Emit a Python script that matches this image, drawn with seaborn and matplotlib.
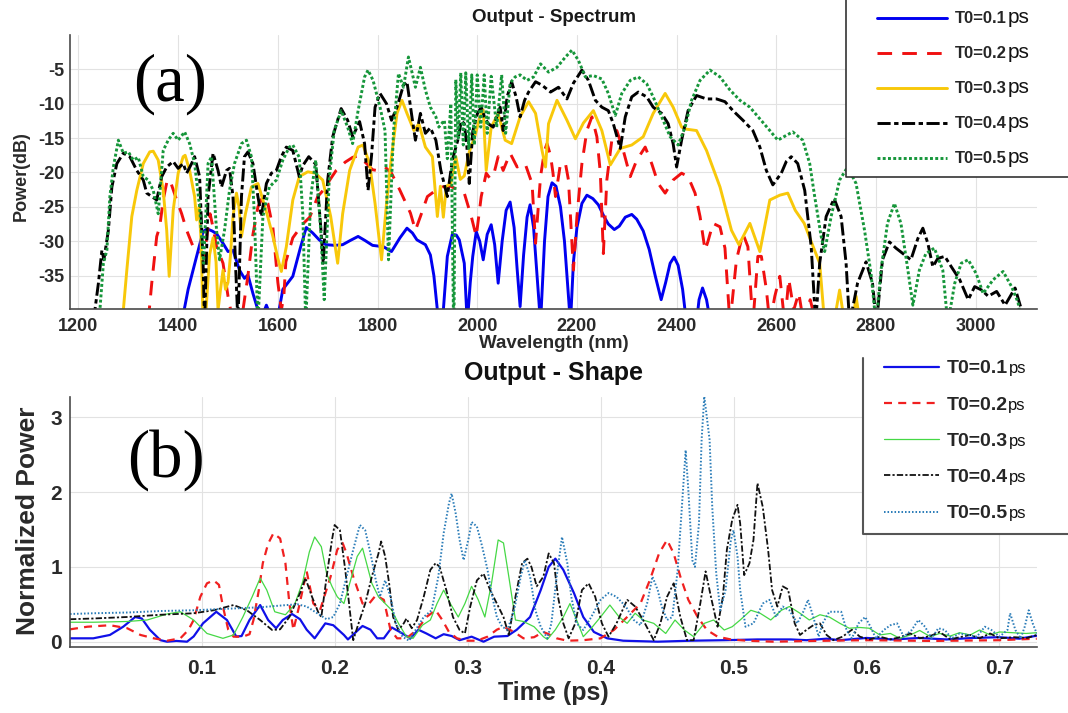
import matplotlib
matplotlib.use("Agg")
import matplotlib.pyplot as plt
import seaborn as sns
from matplotlib.lines import Line2D
from matplotlib.patches import Rectangle
from matplotlib.font_manager import FontProperties

# ---------------- data: top panel (wavelength nm, power dB) ----------------
spec_t01 = [(1405, -45), (1412, -40), (1420, -37), (1437, -32.2), (1450, -28.6), (1458, -28.2), (1468, -28.5),
            (1477, -28.9), (1490, -30.3), (1500, -31.5), (1510, -31.3), (1523, -34.2), (1533, -35.4), (1540, -34.9),
            (1550, -37.6), (1560, -40), (1568, -41), (1577, -39.3), (1586, -41), (1600, -41), (1610, -37),
            (1630, -35.1), (1645, -31), (1657, -28), (1670, -28.8), (1683, -29.8), (1696, -30.5), (1715, -30.6),
            (1730, -30.5), (1745, -29.9), (1761, -29.3), (1775, -29.9), (1790, -30.6), (1812, -30.8), (1828, -31.5),
            (1845, -29.5), (1859, -28.1), (1870, -28.8), (1879, -29.8), (1896, -30.5), (1906, -32), (1913, -35),
            (1920, -40), (1925, -45), (1932, -40), (1940, -32.2), (1950, -29), (1958, -29.1), (1964, -29.8),
            (1974, -33.2), (1980, -42), (1986, -36), (1991, -32.2), (1998, -28.6), (2005, -30), (2012, -32.7),
            (2020, -29), (2028, -27.6), (2035, -30.5), (2042, -36.1), (2050, -30), (2058, -25.5), (2066, -24.3),
            (2074, -28), (2080, -34), (2086, -39.5), (2093, -32), (2100, -26.5), (2106, -24.7), (2113, -28),
            (2120, -35), (2127, -42), (2135, -30), (2142, -23.5), (2150, -21.5), (2158, -22), (2167, -25),
            (2175, -30), (2181, -36), (2187, -42), (2193, -33), (2200, -28), (2210, -24.5), (2220, -23.3),
            (2232, -23.8), (2243, -24.7), (2255, -26.5), (2263, -27.5), (2275, -28.3), (2285, -27.8), (2297, -26.5),
            (2310, -26.1), (2320, -26.8), (2333, -28.5), (2345, -31.2), (2357, -35), (2369, -38.5), (2378, -36),
            (2387, -33.2), (2395, -32.3), (2403, -33.5), (2412, -37), (2420, -42), (2435, -45), (2445, -38.5),
            (2452, -36.8), (2460, -38.5), (2466, -41), (2475, -45)]

spec_t02 = [(1330, -45), (1342, -40), (1347, -36.1), (1357, -29.3), (1363, -27.9), (1370, -24), (1377, -21.5),
            (1383, -21), (1390, -22.5), (1397, -24), (1407, -26), (1417, -28.4), (1430, -30.8), (1443, -31.3),
            (1452, -32.5), (1458, -29), (1464, -26), (1470, -28), (1477, -30.8), (1490, -33.2), (1500, -38),
            (1508, -41), (1520, -41), (1530, -40), (1540, -35), (1550, -29), (1560, -25), (1570, -23.5),
            (1580, -24.5), (1590, -28), (1600, -36), (1607, -40), (1612, -38), (1616, -33), (1630, -29.5),
            (1650, -27.5), (1664, -26.5), (1680, -23.5), (1692, -22.5), (1705, -21), (1717, -19.7), (1735, -18.5),
            (1750, -17.8), (1761, -17.6), (1778, -18.7), (1790, -19.6), (1798, -19.7), (1815, -19.2), (1828, -20.1),
            (1845, -22.6), (1866, -25.9), (1876, -28.4), (1886, -26.4), (1900, -23.5), (1913, -22.8), (1930, -22.1),
            (1947, -22), (1960, -22.5), (1974, -23), (1988, -26.4), (1998, -29.3), (2008, -23.5), (2018, -20.1),
            (2025, -20.8), (2032, -20.6), (2042, -17.7), (2052, -19.7), (2066, -17.2), (2080, -19.2), (2096, -18.7),
            (2110, -21.6), (2117, -30.3), (2127, -20.6), (2135, -16.8), (2140, -15.8), (2147, -17.5), (2152, -20.1),
            (2157, -23.5), (2167, -18.7), (2177, -18.7), (2183, -21.1), (2193, -34.2), (2200, -26.4), (2210, -18.7),
            (2220, -13.9), (2230, -11.9), (2240, -14.8), (2247, -20.1), (2253, -31.8), (2260, -21.1), (2270, -15.3),
            (2280, -13.9), (2293, -16.8), (2307, -20.6), (2320, -18.2), (2337, -16.3), (2350, -18.7), (2363, -21.6),
            (2377, -23), (2393, -21.1), (2410, -20.1), (2423, -20.6), (2437, -23), (2447, -26.4), (2457, -31.3),
            (2463, -30), (2473, -27.4), (2487, -27.9), (2497, -31), (2507, -42), (2520, -32.7), (2533, -28.9),
            (2543, -30.8), (2553, -42), (2563, -32.2), (2570, -32.2), (2580, -37), (2587, -42), (2597, -38),
            (2607, -35.1), (2617, -42), (2625, -35.5), (2635, -40), (2645, -37.5), (2655, -42), (2668, -38.5),
            (2680, -42), (2690, -39.5), (2700, -45)]

spec_t03 = [(1283, -45), (1290, -40), (1297, -34.2), (1307, -26.4), (1317, -22.6), (1330, -18.7), (1343, -17),
            (1350, -16.9), (1360, -18.2), (1370, -22.6), (1377, -28.4), (1382, -35.1), (1390, -25.5), (1400, -20.1),
            (1410, -17.7), (1414, -17.5), (1423, -19.7), (1433, -23.5), (1437, -26.9), (1442, -25), (1446, -30),
            (1450, -42), (1456, -40), (1463, -32), (1470, -29.5), (1476, -33), (1480, -40), (1485, -37),
            (1490, -34.2), (1495, -37), (1500, -36), (1505, -32), (1510, -26.4), (1517, -23), (1522, -25),
            (1527, -29.3), (1535, -26), (1547, -22.1), (1560, -21.6), (1570, -24), (1580, -26.5), (1590, -29.3),
            (1600, -32.5), (1607, -34.4), (1617, -30.8), (1630, -24), (1643, -20.6), (1660, -19.9), (1675, -20.1),
            (1690, -21.1), (1706, -26.4), (1720, -33.2), (1730, -26), (1744, -19.7), (1761, -16.3), (1771, -16),
            (1784, -18.7), (1795, -24.5), (1808, -32.7), (1818, -24.5), (1828, -17.7), (1839, -11.4), (1849, -9.5),
            (1859, -11.4), (1873, -13.9), (1883, -12.9), (1896, -16.3), (1910, -17.7), (1920, -26.4), (1926, -22),
            (1932, -26.5), (1938, -22), (1947, -21.6), (1957, -17.7), (1966, -21), (1974, -20.5), (1984, -17),
            (1995, -14.8), (2005, -12), (2012, -10.9), (2018, -19.7), (2028, -13.4), (2042, -11.4), (2056, -15.3),
            (2069, -15.8), (2086, -11.9), (2103, -9.7), (2117, -11.4), (2130, -16.8), (2137, -19.2), (2143, -12.9),
            (2160, -9.5), (2180, -12.4), (2197, -15.1), (2213, -12.8), (2233, -11), (2250, -13.9), (2267, -18.9),
            (2287, -16.5), (2310, -16), (2333, -14.8), (2353, -11.4), (2377, -8.5), (2393, -10.5), (2410, -13.4),
            (2420, -13.7), (2440, -13.9), (2460, -16.8), (2487, -22.1), (2510, -28.4), (2525, -30.5), (2547, -27.4),
            (2567, -31.5), (2587, -24), (2607, -23.3), (2623, -23), (2638, -25.5), (2656, -27.4), (2674, -30.8),
            (2687, -33.2), (2697, -42), (2712, -45), (2720, -40), (2727, -37.1), (2735, -41), (2750, -44),
            (2760, -38), (2768, -42), (2775, -45)]

spec_t04 = [(1225, -45), (1233, -40), (1240, -36.1), (1247, -31.3), (1251, -32.7), (1260, -28.4), (1267, -22.1),
            (1277, -18.7), (1290, -17.2), (1303, -17.7), (1317, -19.7), (1330, -21.1), (1337, -23), (1347, -23.5),
            (1357, -24), (1367, -20.6), (1377, -19.2), (1390, -18.4), (1400, -19.4), (1410, -18.7), (1417, -20.1),
            (1427, -18.7), (1433, -17.7), (1443, -20.6), (1450, -33.2), (1453, -42), (1460, -23.5), (1470, -17.2),
            (1480, -19.7), (1487, -22.1), (1497, -19.7), (1503, -19.4), (1510, -23.5), (1515, -33.2), (1520, -42),
            (1527, -23.5), (1533, -17.7), (1540, -17), (1550, -18.7), (1560, -23.5), (1567, -26.4), (1577, -21.6),
            (1587, -20.1), (1597, -19.7), (1607, -17.7), (1617, -16.3), (1630, -16.8), (1643, -20.6), (1650, -19),
            (1662, -17.7), (1676, -18.8), (1686, -27.9), (1691, -33.2), (1700, -21.1), (1710, -14.8), (1727, -10.7),
            (1740, -12.4), (1750, -14.8), (1764, -12.6), (1774, -15.8), (1781, -22.6), (1788, -17.5), (1795, -10.5),
            (1805, -8.5), (1818, -10), (1828, -12.4), (1839, -10.5), (1852, -7.3), (1859, -6.8), (1869, -11.9),
            (1876, -15.3), (1886, -11.4), (1896, -14.3), (1906, -13.5), (1917, -15.3), (1927, -19.7), (1940, -23.5),
            (1950, -18.2), (1961, -15.3), (1968, -12.5), (1974, -12.9), (1979, -16), (1984, -21.6), (1991, -14),
            (2000, -11.5), (2008, -10.5), (2015, -12), (2022, -12.9), (2032, -13.4), (2046, -10.5), (2052, -13.9),
            (2060, -9), (2069, -6.8), (2078, -9), (2086, -11.9), (2095, -9.5), (2103, -8.3), (2117, -6.8),
            (2130, -7.3), (2147, -8.3), (2163, -7.6), (2180, -9.3), (2193, -7), (2210, -5.1), (2223, -6.6),
            (2237, -9.5), (2250, -10.5), (2263, -11), (2273, -12.9), (2287, -16.5), (2297, -11.9), (2310, -9),
            (2323, -8.3), (2340, -9), (2353, -10.5), (2370, -11.4), (2383, -12.9), (2393, -15.8), (2400, -19.2),
            (2410, -15.3), (2423, -11), (2440, -8.8), (2460, -9.3), (2480, -9.3), (2497, -9.7), (2513, -11),
            (2533, -12.4), (2553, -13.9), (2567, -16.3), (2580, -19.7), (2593, -21.8), (2610, -20.1), (2620, -18.4),
            (2630, -17.7), (2643, -18.7), (2657, -22.6), (2670, -30.8), (2679, -42), (2687, -33.2), (2700, -26.4),
            (2716, -23.8), (2730, -26.4), (2740, -33.2), (2747, -42), (2763, -36.1), (2780, -33), (2793, -36.1),
            (2801, -42), (2813, -32.7), (2827, -30.1), (2840, -31), (2854, -31.8), (2870, -32.7), (2884, -29.6),
            (2894, -28.1), (2904, -30.3), (2914, -33.7), (2924, -32.5), (2938, -32.2), (2951, -33.7), (2968, -35.6),
            (2985, -38.5), (2998, -36.6), (3012, -37.1), (3025, -38), (3042, -37.3), (3059, -39.3), (3079, -36.8),
            (3092, -40), (3098, -45)]

spec_t05 = [(1236, -45), (1243, -40), (1250, -33.2), (1257, -31.3), (1263, -23.5), (1270, -19.2), (1280, -15.3),
            (1290, -17.2), (1300, -17), (1310, -18.2), (1320, -17.8), (1330, -20.6), (1340, -21.1), (1350, -22.6),
            (1360, -26), (1370, -16.8), (1380, -15.3), (1390, -14.3), (1400, -15.3), (1413, -14.1), (1423, -15.8),
            (1433, -18.7), (1443, -25), (1451, -33.2), (1460, -18.7), (1467, -17.7), (1477, -28.4), (1483, -32.7),
            (1493, -28.4), (1503, -22.6), (1513, -18.7), (1527, -15.8), (1537, -15.3), (1547, -17.7), (1553, -26.4),
            (1560, -42), (1570, -26.4), (1583, -22.1), (1597, -21.1), (1610, -18.2), (1623, -16.3), (1630, -16),
            (1643, -17.8), (1650, -26), (1656, -42), (1666, -23.5), (1676, -18.2), (1686, -28.4), (1693, -38.5),
            (1703, -21.1), (1713, -13.9), (1727, -11), (1740, -13.4), (1750, -15.8), (1761, -11), (1774, -6.1),
            (1781, -5.1), (1791, -6.6), (1805, -10.5), (1815, -13.9), (1822, -32.7), (1832, -14), (1842, -5.6),
            (1852, -7.6), (1862, -3.2), (1876, -7.6), (1886, -4.7), (1896, -8), (1906, -10.5), (1917, -11.9),
            (1923, -13.4), (1934, -12.4), (1940, -18), (1947, -10), (1953, -45), (1957, -6.5), (1962, -15),
            (1967, -5.5), (1972, -16), (1977, -5.5), (1983, -16.5), (1989, -5.8), (1994, -16), (2000, -5.8),
            (2007, -13.4), (2014, -5.8), (2020, -14.3), (2028, -6), (2039, -13.4), (2049, -5.8), (2057, -14.3),
            (2066, -7), (2076, -6.1), (2086, -5.8), (2100, -6.6), (2113, -6.1), (2127, -4.2), (2143, -5.4),
            (2160, -4.7), (2177, -3.2), (2190, -2.2), (2203, -3.7), (2217, -6.1), (2233, -5.9), (2250, -6.4),
            (2263, -8.5), (2277, -11.7), (2290, -8.5), (2307, -6.6), (2323, -6.1), (2340, -7.1), (2353, -9),
            (2370, -11.9), (2387, -14.8), (2403, -16), (2417, -13.4), (2430, -9.5), (2447, -6.6), (2467, -5.1),
            (2487, -6.1), (2507, -8), (2527, -9.5), (2547, -10.5), (2567, -12.2), (2587, -13.9), (2603, -15.3),
            (2620, -14.6), (2633, -14.1), (2653, -15.3), (2667, -18.7), (2677, -23.5), (2690, -29.3), (2697, -31.5),
            (2710, -26.4), (2727, -21.1), (2743, -19.2), (2760, -21.6), (2777, -28.4), (2790, -34.7), (2800, -42),
            (2810, -34.2), (2823, -27.4), (2837, -24.5), (2850, -27.4), (2864, -34.2), (2874, -39.3), (2887, -34.2),
            (2900, -31.8), (2917, -31), (2934, -34.2), (2944, -42), (2958, -36.1), (2971, -33.2), (2985, -32.7),
            (3001, -34.7), (3015, -37.6), (3035, -35.6), (3055, -34.4), (3072, -36.6), (3085, -38.9), (3092, -42),
            (3098, -45)]

# ---------------- data: bottom panel (time ps, normalized power) ----------------
shape_t01 = [(0.001, 0.045), (0.0185, 0.045), (0.031, 0.09), (0.041, 0.2), (0.05, 0.33), (0.055, 0.31), (0.061, 0.16),
             (0.069, 0.02), (0.074, 0.0), (0.081, 0.01), (0.089, 0.0), (0.094, 0.07), (0.101, 0.245), (0.111, 0.4),
             (0.119, 0.29), (0.126, 0.07), (0.13, 0.075), (0.136, 0.29), (0.144, 0.49), (0.15, 0.29), (0.156, 0.18),
             (0.161, 0.29), (0.168, 0.37), (0.174, 0.3), (0.179, 0.16), (0.185, 0.045), (0.193, 0.245), (0.199, 0.22),
             (0.207, 0.09), (0.21, 0.03), (0.221, 0.21), (0.227, 0.16), (0.232, 0.045), (0.237, 0.045), (0.243, 0.19),
             (0.249, 0.13), (0.257, 0.045), (0.263, 0.16), (0.269, 0.11), (0.276, 0.045), (0.282, 0.1), (0.288, 0.076),
             (0.294, 0.02), (0.303, 0.067), (0.312, 0.0), (0.32, 0.067), (0.33, 0.076), (0.337, 0.16), (0.347, 0.33),
             (0.355, 0.69), (0.361, 1.0), (0.366, 1.11), (0.372, 0.96), (0.38, 0.65), (0.387, 0.33), (0.395, 0.13),
             (0.405, 0.045), (0.417, 0.013), (0.443, 0.0), (0.468, 0.013), (0.493, 0.02), (0.518, 0.03), (0.543, 0.03),
             (0.555, 0.02), (0.57, 0.04), (0.58, 0.02), (0.6, 0.05), (0.62, 0.03), (0.64, 0.05), (0.66, 0.03),
             (0.68, 0.05), (0.7, 0.06), (0.715, 0.04), (0.728, 0.08)]

shape_t02 = [(0.001, 0.165), (0.014, 0.2), (0.031, 0.22), (0.044, 0.18), (0.054, 0.09), (0.064, 0.045), (0.074, 0.013),
             (0.084, 0.045), (0.09, 0.156), (0.094, 0.29), (0.099, 0.6), (0.104, 0.78), (0.109, 0.82), (0.113, 0.76),
             (0.116, 0.47), (0.12, 0.16), (0.124, 0.067), (0.131, 0.067), (0.136, 0.1), (0.139, 0.29), (0.143, 0.69),
             (0.146, 1.05), (0.15, 1.31), (0.154, 1.45), (0.159, 1.38), (0.163, 1.05), (0.166, 0.51), (0.169, 0.156),
             (0.173, 0.45), (0.179, 0.94), (0.184, 0.51), (0.189, 0.42), (0.197, 0.87), (0.202, 1.23), (0.206, 1.32),
             (0.209, 1.18), (0.214, 0.87), (0.221, 0.51), (0.226, 0.51), (0.231, 0.62), (0.237, 0.56), (0.242, 0.16),
             (0.247, 0.045), (0.254, 0.045), (0.262, 0.16), (0.269, 0.33), (0.276, 0.42), (0.281, 0.29), (0.286, 0.13),
             (0.292, 0.045), (0.3, 0.013), (0.307, 0.013), (0.315, 0.067), (0.322, 0.16), (0.327, 0.2), (0.335, 0.13),
             (0.342, 0.045), (0.35, 0.06), (0.357, 0.13), (0.361, 0.1), (0.367, 0.045), (0.375, 0.013), (0.387, 0.02),
             (0.4, 0.045), (0.41, 0.156), (0.42, 0.33), (0.43, 0.51), (0.437, 0.82), (0.444, 1.18), (0.45, 1.36),
             (0.455, 1.18), (0.46, 0.87), (0.466, 0.56), (0.473, 0.33), (0.48, 0.156), (0.488, 0.067), (0.498, 0.03),
             (0.51, 0.013), (0.53, 0.0), (0.56, 0.01), (0.6, 0.02), (0.65, 0.01), (0.7, 0.02), (0.728, 0.04)]

shape_t03 = [(0.001, 0.26), (0.0185, 0.26), (0.044, 0.27), (0.059, 0.29), (0.074, 0.37), (0.084, 0.4), (0.094, 0.29),
             (0.104, 0.11), (0.116, 0.045), (0.124, 0.09), (0.131, 0.33), (0.138, 0.6), (0.144, 0.85), (0.149, 0.69),
             (0.155, 0.4), (0.163, 0.36), (0.17, 0.5), (0.176, 0.8), (0.181, 1.2), (0.185, 1.4), (0.19, 1.27),
             (0.194, 0.91), (0.198, 0.74), (0.202, 0.6), (0.207, 0.51), (0.212, 0.82), (0.217, 1.14), (0.221, 1.25),
             (0.224, 1.05), (0.228, 0.78), (0.233, 0.6), (0.238, 0.51), (0.243, 0.42), (0.248, 0.245), (0.254, 0.067),
             (0.259, 0.045), (0.266, 0.22), (0.272, 0.29), (0.277, 0.51), (0.282, 0.69), (0.287, 0.51), (0.293, 0.33),
             (0.298, 0.51), (0.303, 0.74), (0.308, 0.56), (0.313, 0.33), (0.318, 0.78), (0.323, 1.36), (0.327, 1.32),
             (0.331, 0.87), (0.336, 0.29), (0.342, 0.27), (0.35, 0.2), (0.357, 0.067), (0.36, 0.03), (0.366, 0.16),
             (0.372, 0.33), (0.377, 0.51), (0.382, 0.29), (0.387, 0.067), (0.393, 0.18), (0.4, 0.33), (0.407, 0.49),
             (0.414, 0.33), (0.42, 0.245), (0.426, 0.38), (0.432, 0.29), (0.44, 0.245), (0.449, 0.11), (0.456, 0.29),
             (0.463, 0.156), (0.47, 0.067), (0.478, 0.245), (0.485, 0.29), (0.493, 0.156), (0.499, 0.2), (0.505, 0.29),
             (0.513, 0.42), (0.52, 0.38), (0.528, 0.29), (0.536, 0.42), (0.542, 0.47), (0.55, 0.38), (0.557, 0.29),
             (0.565, 0.36), (0.572, 0.33), (0.58, 0.245), (0.587, 0.18), (0.595, 0.19), (0.602, 0.18), (0.61, 0.09),
             (0.618, 0.11), (0.625, 0.045), (0.633, 0.09), (0.64, 0.15), (0.648, 0.067), (0.655, 0.11), (0.663, 0.076),
             (0.67, 0.12), (0.678, 0.09), (0.685, 0.156), (0.693, 0.09), (0.7, 0.13), (0.71, 0.12), (0.72, 0.11),
             (0.728, 0.12)]

shape_t04 = [(0.001, 0.3), (0.0185, 0.31), (0.044, 0.33), (0.069, 0.36), (0.094, 0.38), (0.109, 0.42), (0.124, 0.49),
             (0.134, 0.42), (0.144, 0.29), (0.153, 0.156), (0.159, 0.165), (0.166, 0.33), (0.174, 0.65), (0.178, 0.85),
             (0.183, 0.6), (0.188, 0.38), (0.19, 0.33), (0.194, 0.87), (0.198, 1.36), (0.2, 1.56), (0.204, 1.49),
             (0.208, 0.96), (0.212, 0.33), (0.214, 0.02), (0.218, 0.245), (0.223, 0.51), (0.228, 0.87), (0.233, 1.18),
             (0.235, 1.34), (0.238, 1.14), (0.241, 0.78), (0.244, 0.33), (0.248, 0.156), (0.252, 0.245), (0.254, 0.31),
             (0.258, 0.18), (0.262, 0.29), (0.267, 0.6), (0.272, 0.96), (0.276, 1.05), (0.279, 1.0), (0.284, 0.69),
             (0.289, 0.33), (0.294, 0.156), (0.298, 0.11), (0.302, 0.47), (0.307, 0.82), (0.312, 0.91), (0.317, 0.69),
             (0.322, 0.51), (0.327, 0.33), (0.331, 0.09), (0.336, 0.6), (0.341, 1.05), (0.345, 1.11), (0.348, 1.0),
             (0.352, 0.74), (0.357, 0.87), (0.361, 1.18), (0.365, 1.05), (0.368, 0.6), (0.372, 0.245), (0.376, 0.045),
             (0.381, 0.245), (0.386, 0.69), (0.391, 0.78), (0.396, 0.6), (0.401, 0.245), (0.406, 0.067), (0.412, 0.245),
             (0.42, 0.56), (0.426, 0.47), (0.432, 0.29), (0.44, 0.02), (0.445, 0.245), (0.45, 0.6), (0.455, 0.78),
             (0.46, 0.33), (0.465, 0.02), (0.47, 0.02), (0.475, 0.51), (0.479, 0.94), (0.483, 0.6), (0.488, 0.2),
             (0.492, 0.6), (0.495, 1.23), (0.499, 1.63), (0.503, 1.83), (0.505, 1.58), (0.508, 0.89), (0.512, 1.05),
             (0.515, 1.36), (0.518, 2.12), (0.522, 1.8), (0.526, 1.23), (0.529, 0.69), (0.533, 0.47), (0.537, 0.74),
             (0.541, 0.7), (0.546, 0.245), (0.55, 0.09), (0.555, 0.16), (0.56, 0.22), (0.565, 0.245), (0.57, 0.09),
             (0.575, 0.02), (0.582, 0.067), (0.589, 0.16), (0.595, 0.067), (0.602, 0.03), (0.61, 0.067), (0.618, 0.03),
             (0.625, 0.06), (0.633, 0.11), (0.64, 0.045), (0.648, 0.076), (0.655, 0.13), (0.663, 0.03), (0.67, 0.06),
             (0.678, 0.09), (0.685, 0.045), (0.693, 0.11), (0.7, 0.045), (0.711, 0.06), (0.721, 0.05), (0.728, 0.09)]

shape_t05 = [(0.001, 0.37), (0.0185, 0.38), (0.044, 0.39), (0.069, 0.41), (0.094, 0.42), (0.119, 0.44), (0.144, 0.46),
             (0.164, 0.49), (0.172, 0.5), (0.179, 0.47), (0.187, 0.38), (0.194, 0.3), (0.199, 0.33), (0.204, 0.51),
             (0.209, 0.87), (0.214, 1.23), (0.219, 1.56), (0.223, 1.49), (0.227, 1.18), (0.231, 0.82), (0.234, 0.6),
             (0.238, 0.82), (0.242, 0.6), (0.246, 0.245), (0.251, 0.067), (0.256, 0.013), (0.261, 0.16), (0.267, 0.33),
             (0.273, 0.42), (0.278, 0.87), (0.282, 1.45), (0.286, 1.85), (0.288, 1.98), (0.291, 1.72), (0.294, 1.36),
             (0.297, 1.09), (0.301, 1.4), (0.303, 1.6), (0.307, 1.54), (0.311, 1.27), (0.315, 0.96), (0.318, 0.65),
             (0.322, 0.33), (0.326, 0.2), (0.33, 0.16), (0.335, 0.42), (0.34, 0.87), (0.343, 1.09), (0.347, 0.87),
             (0.351, 0.42), (0.355, 0.2), (0.36, 0.045), (0.363, 0.245), (0.367, 0.87), (0.371, 1.4), (0.375, 1.05),
             (0.378, 0.6), (0.382, 0.245), (0.387, 0.156), (0.393, 0.33), (0.4, 0.56), (0.406, 0.65), (0.412, 0.6),
             (0.419, 0.47), (0.425, 0.29), (0.43, 0.22), (0.435, 0.51), (0.439, 0.87), (0.443, 0.69), (0.446, 0.47),
             (0.45, 0.29), (0.454, 0.33), (0.458, 0.96), (0.461, 1.76), (0.464, 2.56), (0.466, 2.03), (0.469, 1.09),
             (0.471, 1.0), (0.474, 1.58), (0.476, 2.7), (0.478, 3.28), (0.482, 2.7), (0.484, 1.8), (0.487, 0.91),
             (0.49, 0.42), (0.494, 0.69), (0.498, 1.36), (0.5, 1.49), (0.503, 1.14), (0.505, 0.69), (0.509, 0.2),
             (0.515, 0.245), (0.522, 0.51), (0.527, 0.56), (0.532, 0.33), (0.537, 0.47), (0.542, 0.42), (0.548, 0.245),
             (0.553, 0.42), (0.556, 0.56), (0.56, 0.33), (0.564, 0.067), (0.567, 0.245), (0.572, 0.4), (0.577, 0.4),
             (0.581, 0.4), (0.585, 0.156), (0.589, 0.045), (0.594, 0.245), (0.599, 0.33), (0.603, 0.2), (0.607, 0.045),
             (0.613, 0.156), (0.618, 0.22), (0.623, 0.245), (0.628, 0.067), (0.634, 0.156), (0.639, 0.29), (0.644, 0.2),
             (0.649, 0.045), (0.654, 0.18), (0.659, 0.156), (0.664, 0.045), (0.67, 0.11), (0.676, 0.09), (0.683, 0.067),
             (0.689, 0.2), (0.694, 0.156), (0.7, 0.067), (0.706, 0.156), (0.708, 0.38), (0.712, 0.156), (0.716, 0.045),
             (0.719, 0.2), (0.722, 0.42), (0.725, 0.245), (0.728, 0.11)]

series_labels = ["T0=0.1", "T0=0.2", "T0=0.3", "T0=0.4", "T0=0.5"]
unit_label = "ps"
spec_xticks = [1200, 1400, 1600, 1800, 2000, 2200, 2400, 2600, 2800, 3000]
spec_yticks = [-35, -30, -25, -20, -15, -10, -5]
shape_xticks = [0.1, 0.2, 0.3, 0.4, 0.5, 0.6, 0.7]
shape_yticks = [0, 1, 2, 3]

# ---------------- styles ----------------
top_styles = [("#0000f0", "-", 2.1),
              ("#f01010", (0, (5, 3.5)), 2.1),
              ("#f8c80a", "-", 2.1),
              ("#000000", (0, (4.5, 1.2, 1.5, 1.2)), 2.1),
              ("#16963a", (0, (1, 0.8)), 2.1)]
bot_styles = [("#1010e8", "-", 1.6),
              ("#f02020", (0, (3.6, 2.8)), 1.6),
              ("#45d845", "-", 0.9),
              ("#111111", (0, (3.5, 1.2, 1.2, 1.2)), 1.3),
              ("#2a7cb8", (0, (0.8, 1.0)), 1.4)]

sns.set_style("white")
plt.rcParams['font.family'] = ['Liberation Sans', 'DejaVu Sans']
plt.rcParams['axes.unicode_minus'] = False

W, H = 1068, 713
fig = plt.figure(figsize=(W / 100, H / 100), dpi=100)


def px_rect(l, t, r, b):
    return [l / W, 1 - b / H, (r - l) / W, (b - t) / H]


ax1 = fig.add_axes(px_rect(70, 35, 1037, 309.3))
ax2 = fig.add_axes(px_rect(70, 396.7, 1036.7, 646.7))

for data, lab, (c, ls, lw) in zip([spec_t01, spec_t02, spec_t03, spec_t04, spec_t05], series_labels, top_styles):
    xs = [p[0] for p in data]
    ys = [p[1] for p in data]
    sns.lineplot(x=xs, y=ys, ax=ax1, color=c, linestyle=ls, linewidth=lw, label=lab,
                 sort=False, estimator=None, legend=False)

for data, lab, (c, ls, lw) in zip([shape_t01, shape_t02, shape_t03, shape_t04, shape_t05], series_labels, bot_styles):
    xs = [p[0] for p in data]
    ys = [p[1] for p in data]
    sns.lineplot(x=xs, y=ys, ax=ax2, color=c, linestyle=ls, linewidth=lw, label=lab,
                 sort=False, estimator=None, legend=False)

ax1.set_xlim(1183, 3123)
ax1.set_ylim(-39.9, 0)
ax1.set_xticks(spec_xticks)
ax1.set_yticks(spec_yticks)
ax2.set_xlim(0.001, 0.728)
ax2.set_ylim(-0.067, 3.275)
ax2.set_xticks(shape_xticks)
ax2.set_yticks(shape_yticks)

for ax, fs, xpad, ypad in [(ax1, 13, 6.5, 4.3), (ax2, 15, 8.5, 5.8)]:
    ax.grid(True, color="#e2e2e2", lw=0.8)
    ax.set_axisbelow(True)
    for s in ["top", "right"]:
        ax.spines[s].set_visible(False)
    for s in ["left", "bottom"]:
        ax.spines[s].set_color("#4a4a4a")
        ax.spines[s].set_linewidth(1.2)
    ax.tick_params(axis="both", direction="in", length=4, color="#4a4a4a", labelsize=fs, labelcolor="#2a2a2a")
    ax.tick_params(axis="x", pad=xpad)
    ax.tick_params(axis="y", pad=ypad)
    for t in ax.get_xticklabels() + ax.get_yticklabels():
        t.set_fontweight("bold")
    ax.set_xlabel("")
    ax.set_ylabel("")

# titles and labels
ax1.set_title("Output - Spectrum", fontsize=13.5, fontweight="bold", y=(696 - 403.7) / 274.3, va="center",
              pad=0, color="#1a1a1a")
ax1.set_xlabel("Wavelength (nm)", fontsize=13.5, fontweight="bold", color="#2a2a2a")
ax1.xaxis.set_label_coords(0.5, ((713 - 343) - 403.7) / 274.3)
ax1.xaxis.label.set_va("center")
ax1.set_ylabel("Power(dB)", fontsize=13, fontweight="bold", color="#2a2a2a")
ax1.yaxis.set_label_coords((21.5 - 70) / 967, (713 - 176.5 - 403.7) / 274.3)
ax1.yaxis.label.set_va("center")

ax2.set_title("Output - Shape", fontsize=18, fontweight="bold", y=(713 - 373 - 66.3) / 250, va="center",
              pad=0, color="#111111")
ax2.set_xlabel("Time (ps)", fontsize=18, fontweight="bold", color="#2a2a2a")
ax2.xaxis.set_label_coords(0.5, (20 - 66.3) / 250)
ax2.xaxis.label.set_va("center")
ax2.set_ylabel("Normalized Power", fontsize=19, fontweight="bold", color="#2a2a2a")
ax2.yaxis.set_label_coords((28 - 70) / 966.7, (713 - 521 - 66.3) / 250)
ax2.yaxis.label.set_va("center")

ax1.text((170 - 70) / 967, (309.3 - 84) / 274.3, "(a)", transform=ax1.transAxes, ha="center", va="center",
         fontsize=48, family="Liberation Serif", color="black")
ax2.text((166 - 70) / 966.7, (646.7 - 460) / 250, "(b)", transform=ax2.transAxes, ha="center", va="center",
         fontsize=48, family="Liberation Serif", color="black")

# legend backgrounds and frames (figure level, drawn above axes)
fig.add_artist(Rectangle((846 / W, 1 - 177 / H), (W - 846) / W, 177 / H, transform=fig.transFigure,
                         facecolor="white", edgecolor="none", zorder=2))
fig.add_artist(Line2D([846 / W, 846 / W, 1.0], [1.0, 1 - 177 / H, 1 - 177 / H], transform=fig.transFigure,
                      color="#333333", lw=1.2, zorder=3))
fig.add_artist(Rectangle((863 / W, 1 - 534 / H), (W - 863) / W, (534 - 358) / H, transform=fig.transFigure,
                         facecolor="white", edgecolor="none", zorder=2))
fig.add_artist(Line2D([863 / W, 863 / W, 1.0], [1 - 358 / H, 1 - 534 / H, 1 - 534 / H], transform=fig.transFigure,
                      color="#555555", lw=1.5, zorder=3))

h1, l1 = ax1.get_legend_handles_labels()
leg1 = fig.legend(h1, l1, loc="upper left", bbox_to_anchor=(869 / W, 1 - 3 / H), frameon=False, borderpad=0,
                  handlelength=4.2, handletextpad=0.45, labelspacing=1.2,
                  prop=FontProperties(family="Liberation Sans", weight="bold", size=12))
leg1.set_zorder(4)
h2, l2 = ax2.get_legend_handles_labels()
leg2 = fig.legend(h2, l2, loc="upper left", bbox_to_anchor=(874 / W, 1 - 350 / H), frameon=False, borderpad=0,
                  handlelength=2.85, handletextpad=0.4, labelspacing=0.96,
                  prop=FontProperties(family="Liberation Sans", weight="bold", size=14))
leg2.set_zorder(4)

fig.canvas.draw()
renderer = fig.canvas.get_renderer()
for t in leg1.get_texts():
    bb = t.get_window_extent(renderer)
    base = t.get_transform().transform(t.get_position())
    fig.text((bb.x1 + 0.5) / W, base[1] / H, unit_label, ha="left", va="baseline", fontsize=15,
             family="Liberation Sans", color="#111111", zorder=5)
for t in leg2.get_texts():
    bb = t.get_window_extent(renderer)
    fig.text((bb.x1 + 0.5) / W, (bb.y1 - 1) / H, unit_label, ha="left", va="top", fontsize=12,
             family="Liberation Sans", color="#111111", zorder=5)

fig.savefig("out.png", dpi=100)
